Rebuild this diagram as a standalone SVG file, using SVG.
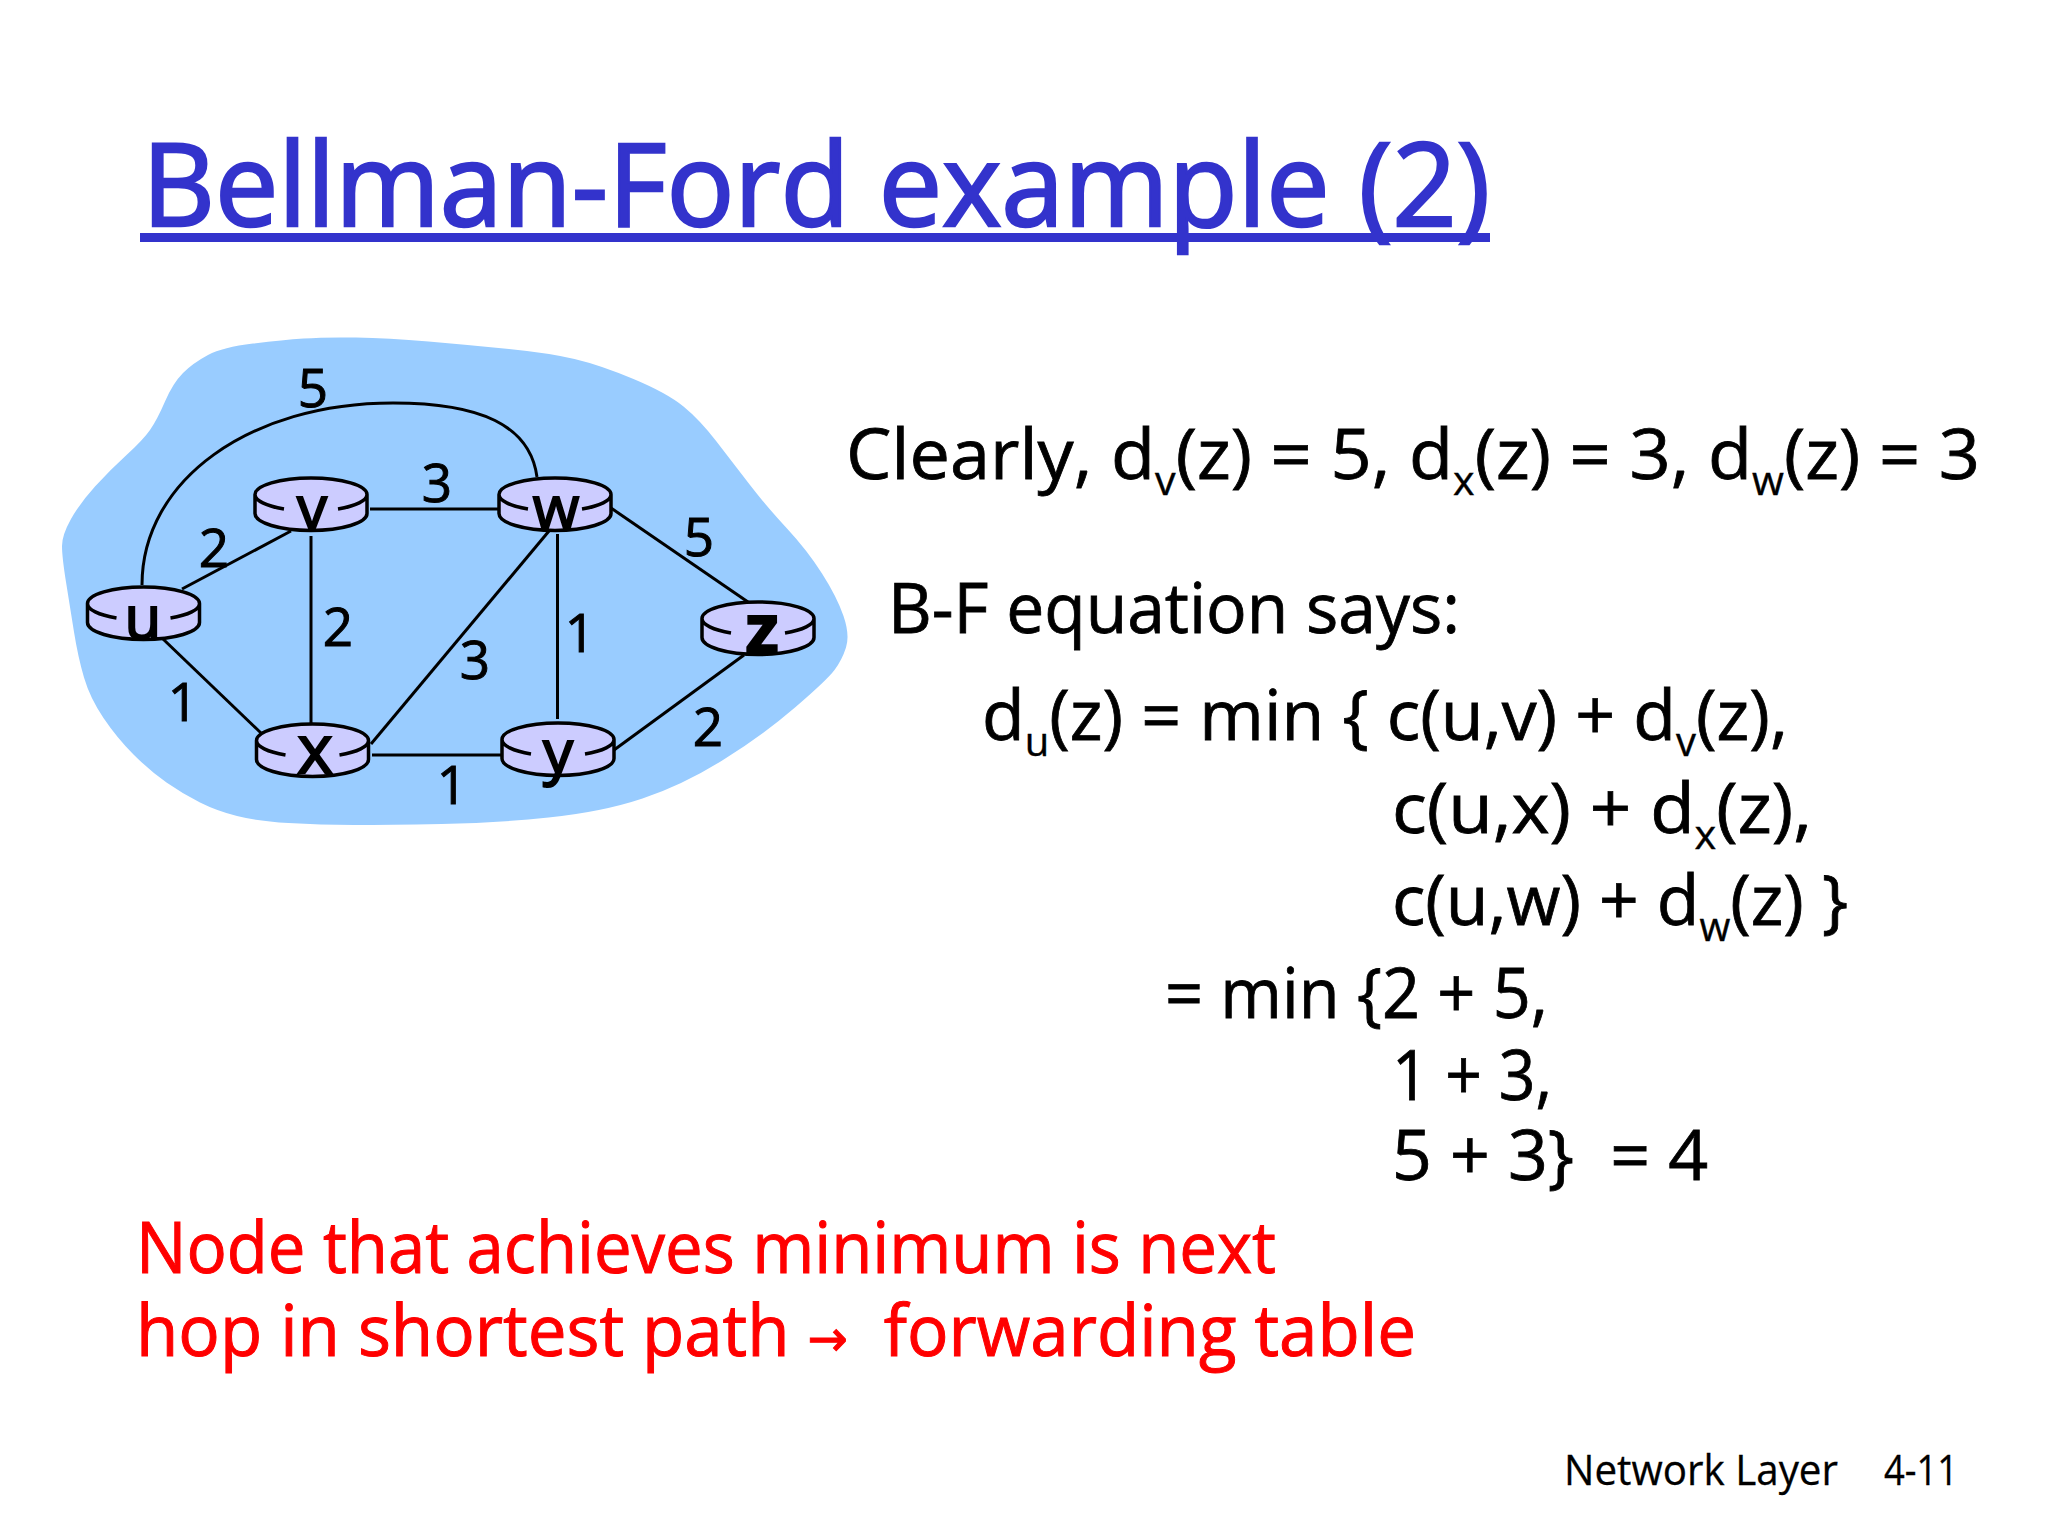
<svg xmlns="http://www.w3.org/2000/svg" xmlns:xlink="http://www.w3.org/1999/xlink" width="2048" height="1536" viewBox="0 0 2048 1536">
<style>
text{font-family:"Open Sans","Noto Sans","DejaVu Sans",sans-serif;fill:#000}
.body{font-size:70px;stroke:#000;stroke-width:.8}
.sub{font-size:40px;stroke-width:.4}
.red{font-size:72px;fill:#f00;stroke:#f00;stroke-width:1}
.arrow{font-size:50px}
.foot{font-size:42px;stroke:#000;stroke-width:.3}
.num{font-size:53px;text-anchor:middle;stroke:#000;stroke-width:1}
.lab{font-size:60px;text-anchor:middle;stroke:#000;stroke-width:2}
.edge{fill:none;stroke:#000;stroke-width:3}
.rf{fill:#ccccff;stroke:none}
.rs{fill:none;stroke:#000;stroke-width:3.5}
</style>
<defs>
<g id="router">
<path class="rf" d="M-56 0A56 16.500 0 0 1 56 0V19A56 17 0 0 1-56 19Z"/>
<path class="rs" d="M-56 0A56 16.500 0 0 1 56 0M-56 0A56 16.500 0 0 0-27 14.500M56 0A56 16.500 0 0 1 27 14.500M-56 0V19A56 17 0 0 0 56 19V0"/>
</g>
</defs>
<rect width="2048" height="1536" fill="#fff"/>
<path id="cloud" fill="#99ccff" d="M303.500 338.500Q324 337 356 337.500Q388 338 428.500 341.500Q469 345 509 349Q549 353 574.500 359Q600 365 633.500 379Q667 393 683.500 406.500Q700 420 716.500 441.500Q733 463 750 485Q767 507 787 528.500Q807 550 822 573.500Q837 597 843.500 616Q850 635 846 647.500Q842 660 834.500 670Q827 680 795 707.500Q763 735 723 760Q683 785 642.500 798.500Q602 812 548.500 817.500Q495 823 441.500 824Q388 825 354 825Q320 825 288.500 823Q257 821 237 816Q217 811 200 802.500Q183 794 166.500 782.500Q150 771 133.500 754.500Q117 738 103.500 718Q90 698 84 677.500Q78 657 74 632Q70 607 66 582Q62 557 62 546Q62 535 71 519Q80 503 95 486.500Q110 470 126.500 455Q143 440 150 430Q157 420 165 401.500Q173 383 183 373Q193 363 208 355Q223 347 253 343.500Q283 340 303.500 338.500Z"/>
<g id="connectors">
<path class="edge" d="M142 585C142 480 250 403 393 403C480 403 530 425 537 477"/>
<path class="edge" d="M182 589L291 531"/>
<path class="edge" d="M370 509H500"/>
<path class="edge" d="M311 536V723"/>
<path class="edge" d="M163 639L261 733"/>
<path class="edge" d="M371 744L549 531"/>
<path class="edge" d="M372 755H502"/>
<path class="edge" d="M557.500 534V719"/>
<path class="edge" d="M611 508L748 602"/>
<path class="edge" d="M614 750L744 655"/>
</g>
<g id="edge-labels">
<text class="num" x="313" y="407">5</text>
<text class="num" x="437" y="502">3</text>
<text class="num" x="214" y="567">2</text>
<text class="num" x="338" y="646">2</text>
<text class="num" x="475" y="679">3</text>
<text class="num" x="580" y="652">1</text>
<text class="num" x="699" y="556">5</text>
<text class="num" x="183" y="721">1</text>
<text class="num" x="452" y="804">1</text>
<text class="num" x="708" y="746">2</text>
</g>
<g id="node-u"><use xlink:href="#router" href="#router" x="143.500" y="603.500"/><text class="lab" x="143" y="639">u</text></g>
<g id="node-v"><use xlink:href="#router" href="#router" x="311" y="494.500"/><text class="lab" x="312" y="529">v</text></g>
<g id="node-w"><use xlink:href="#router" href="#router" x="555" y="494.500"/><text class="lab" x="556" y="529">w</text></g>
<g id="node-x"><use xlink:href="#router" href="#router" x="312.500" y="740.500"/><text class="lab" x="315" y="773" font-size="68" style="font-size:68px">x</text></g>
<g id="node-y"><use xlink:href="#router" href="#router" x="558" y="739.500"/><text class="lab" x="558" y="773">y</text></g>
<g id="node-z"><use xlink:href="#router" href="#router" x="758" y="618.500"/><text class="lab" x="762" y="653" font-weight="700" style="font-size:68px">z</text></g>
<g id="title">
<text x="142" y="226" font-size="116" style="fill:#3333cc;stroke:#3333cc;stroke-width:2.500" textLength="1348" lengthAdjust="spacingAndGlyphs">Bellman-Ford example (2)</text>
<rect x="140" y="233" width="1350" height="9" fill="#3333cc"/>
</g>
<g id="equations">
<text class="body" x="846" y="479" textLength="1134" lengthAdjust="spacingAndGlyphs">Clearly, d<tspan class="sub" dy="16">v</tspan><tspan dy="-16">(z) = 5, d</tspan><tspan class="sub" dy="16">x</tspan><tspan dy="-16">(z) = 3, d</tspan><tspan class="sub" dy="16">w</tspan><tspan dy="-16">(z) = 3</tspan></text>
<text class="body" x="888" y="633" textLength="572" lengthAdjust="spacingAndGlyphs">B-F equation says:</text>
<text class="body" x="982" y="740" textLength="806" lengthAdjust="spacingAndGlyphs">d<tspan class="sub" dy="16">u</tspan><tspan dy="-16">(z) = min { c(u,v) + d</tspan><tspan class="sub" dy="16">v</tspan><tspan dy="-16">(z),</tspan></text>
<text class="body" x="1392" y="833" textLength="420" lengthAdjust="spacingAndGlyphs">c(u,x) + d<tspan class="sub" dy="16">x</tspan><tspan dy="-16">(z),</tspan></text>
<text class="body" x="1392" y="925" textLength="456" lengthAdjust="spacingAndGlyphs">c(u,w) + d<tspan class="sub" dy="16">w</tspan><tspan dy="-16">(z) }</tspan></text>
<text class="body" x="1165" y="1018" textLength="383" lengthAdjust="spacingAndGlyphs">= min {2 + 5,</text>
<text class="body" x="1392" y="1100" textLength="160" lengthAdjust="spacingAndGlyphs">1 + 3,</text>
<text class="body" x="1392" y="1180" textLength="316" lengthAdjust="spacingAndGlyphs" xml:space="preserve">5 + 3}  = 4</text>
</g>
<g id="note">
<text class="red" x="136" y="1273" textLength="1140" lengthAdjust="spacingAndGlyphs">Node that achieves minimum is next</text>
<text class="red" x="136" y="1356" textLength="1280" lengthAdjust="spacingAndGlyphs" xml:space="preserve">hop in shortest path <tspan class="arrow">→</tspan>  forwarding table</text>
</g>
<g id="footer">
<text class="foot" x="1564" y="1485" textLength="274" lengthAdjust="spacingAndGlyphs">Network Layer</text>
<text class="foot" x="1884" y="1485" textLength="74" lengthAdjust="spacingAndGlyphs">4-11</text>
</g>
</svg>
